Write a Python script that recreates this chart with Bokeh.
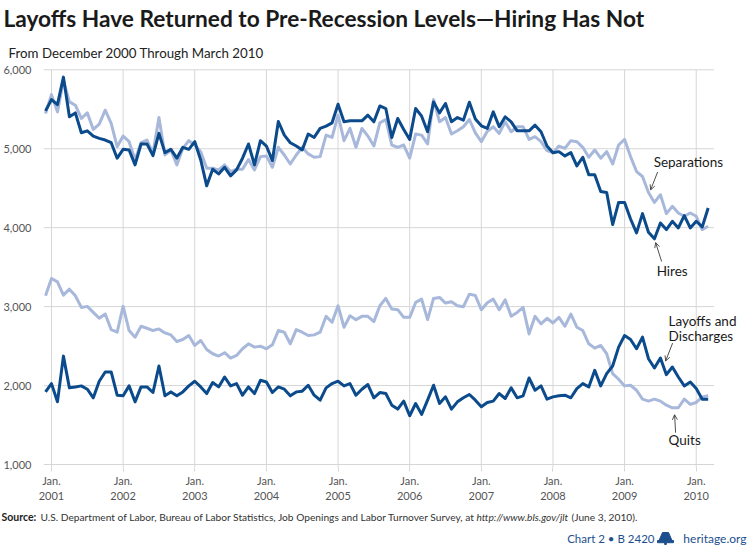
import pandas as pd
from bokeh.plotting import figure
from bokeh.layouts import column
from bokeh.models import (Label, Arrow, OpenHead, FixedTicker, Range1d,
                          NumeralTickFormatter, ColumnDataSource)
from bokeh.embed import file_html
from bokeh.resources import INLINE

# ---------------- data (thousands, monthly, Dec 2000 - Mar 2010) -------------
months = pd.date_range("2000-12-01", "2010-03-01", freq="MS")

hires = [
    5479, 5622, 5559, 5907, 5404, 5454, 5202, 5227, 5160, 5131, 5110, 5076,
    4880, 4992, 4984, 4795, 5060, 5060, 4913, 5194, 4950, 4992, 4880, 5018,
    4992, 5089, 4858, 4530, 4740, 4681, 4765, 4656, 4732, 4880, 5060, 4795,
    5102, 5034, 4850, 5345, 5172, 5076, 5034, 4984, 5186, 5143, 5257, 5286,
    5328, 5563, 5341, 5353, 5353, 5353, 5425, 5341, 5542, 5509, 5143, 5383,
    5244, 5118, 5509, 5412, 5215, 5593, 5454, 5572, 5341, 5395, 5362, 5589,
    5375, 5290, 5257, 5467, 5278, 5404, 5341, 5227, 5227, 5227, 5298, 5215,
    5034, 4950, 4963, 4909, 4950, 4782, 4892, 4669, 4669, 4459, 4446, 4039,
    4320, 4320, 4110, 3934, 4178, 3943, 3859, 4060, 3976, 4081, 3997, 4152,
    3997, 4081, 4009, 4249,
]
separations = [
    5446, 5685, 5467, 5865, 5593, 5551, 5383, 5454, 5244, 5312, 5488, 5320,
    5026, 5160, 5089, 4858, 5076, 5110, 4942, 5396, 4921, 4984, 4795, 5005,
    5102, 5047, 4963, 4753, 4753, 4732, 4795, 4711, 4740, 4740, 4863, 4732,
    4900, 4909, 4765, 5018, 4921, 4807, 4921, 5018, 4934, 4892, 4900, 5172,
    5143, 5425, 5102, 5257, 5018, 5257, 5160, 5034, 5328, 5370, 5047, 5018,
    5047, 4880, 5186, 5172, 5060, 5622, 5341, 5395, 5186, 5227, 5278, 5370,
    5200, 5089, 5220, 5278, 5194, 5341, 5215, 5278, 5278, 5118, 5152, 5089,
    4976, 4950, 5034, 5005, 5102, 5089, 5018, 4892, 4984, 4880, 4963, 4807,
    5047, 5118, 4900, 4711, 4648, 4446, 4320, 4417, 4178, 4270, 4186, 4144,
    4186, 4144, 3976, 4018,
]
quits = [
    3137, 3356, 3314, 3146, 3221, 3137, 2990, 3003, 2927, 2852, 2906, 2709,
    2676, 3003, 2697, 2613, 2751, 2726, 2697, 2718, 2667, 2642, 2558, 2583,
    2634, 2508, 2571, 2457, 2403, 2374, 2416, 2348, 2382, 2466, 2529, 2487,
    2499, 2466, 2516, 2697, 2676, 2529, 2709, 2676, 2634, 2642, 2676, 2877,
    2802, 3011, 2739, 2885, 2835, 2877, 2877, 2810, 3011, 3104, 2969, 2961,
    2864, 2864, 3053, 3095, 2835, 3104, 3116, 3045, 3062, 3011, 2999, 3158,
    3140, 2961, 3050, 3095, 2961, 3087, 2877, 2927, 2990, 2655, 2877, 2781,
    2852, 2793, 2864, 2751, 2906, 2739, 2697, 2529, 2474, 2508, 2403, 2151,
    2080, 1996, 2004, 1941, 1828, 1803, 1828, 1803, 1752, 1719, 1719, 1828,
    1761, 1786, 1857, 1870,
]
layoffs = [
    1920, 2025, 1794, 2373, 1971, 1983, 1996, 1954, 1845, 2055, 2172, 2172,
    1878, 1870, 1996, 1794, 1983, 1983, 1912, 2248, 1870, 1920, 1870, 1920,
    1996, 2055, 1983, 1899, 2038, 1983, 2109, 1996, 2025, 1878, 1983, 1899,
    2067, 2046, 1912, 1983, 1954, 1870, 1920, 1929, 2004, 1878, 1815, 1971,
    2025, 2055, 1996, 2025, 1878, 1954, 2013, 1845, 1912, 1899, 1752, 1702,
    1803, 1618, 1773, 1635, 1815, 2004, 1773, 1857, 1702, 1794, 1845, 1887,
    1815, 1731, 1786, 1803, 1899, 1836, 1971, 1845, 1870, 2096, 1941, 1996,
    1828, 1857, 1870, 1878, 1845, 1962, 2025, 1983, 2193, 1996, 2151, 2248,
    2487, 2634, 2583, 2466, 2613, 2340, 2222, 2348, 2138, 2235, 2109, 1996,
    2046, 1962, 1828, 1828,
]
tick_years = list(range(2001, 2011))
y_ticks = [1000, 2000, 3000, 4000, 5000, 6000]

title_text = "Layoffs Have Returned to Pre-Recession Levels\u2014Hiring Has Not"
subtitle_text = "From December 2000 Through March 2010"
source_bold = "Source:"
source_main = ("U.S. Department of Labor, Bureau of Labor Statistics, Job Openings "
               "and Labor Turnover Survey, at")
source_url = "http://www.bls.gov/jlt"
source_date = "(June 3, 2010)."
chart_id = "Chart 2 \u2022 B 2420"
site = "heritage.org"

# ---------------- styling ----------------
DARK = "#0b4a8b"
LIGHT = "#a7b8db"
GRID = "#d6d6d6"
FOOT_BLUE = "#1d4f8f"
FONT = "Lato"
W = 750
HEAD_H = 64
MAIN_BOTTOM = 505


def no_align(f):
    if "frame_align" in f.properties():
        f.frame_align = False


def blank(height, y_top, y_bottom):
    f = figure(width=W, height=height, output_backend="svg", toolbar_location=None,
               x_range=Range1d(0, W), y_range=Range1d(y_bottom, y_top),
               x_axis_location=None, y_axis_location=None, min_border=0)
    f.outline_line_color = None
    f.grid.visible = False
    no_align(f)
    return f


def lab(f, text, x, y, size, color="#1a1a1a", style="normal", font=FONT,
        align="left"):
    f.add_layout(Label(x=x, y=y, text=text, text_font=font, text_font_size=size,
                       text_color=color, text_font_style=style,
                       text_align=align, text_baseline="middle"))


# ---------------- header (page y 0..64) ----------------
header = blank(HEAD_H, 0, HEAD_H)
lab(header, title_text, 3, 17.5, "22.7px", style="bold", color="#1a1a1a")
lab(header, subtitle_text, 8, 52, "13.3px", color="#222222")

# ---------------- main chart (page y 64..505) ----------------
xpos = [m.year + (m.month - 1) / 12 for m in months]
src = ColumnDataSource(dict(x=xpos, hires=hires, sep=separations,
                            quits=quits, layoffs=layoffs))

PX_PER_UNIT = 0.07934
x0 = 2000.8885
y_lo = 1000 - 3 / PX_PER_UNIT
y_hi = 6000 + (69.3 - HEAD_H) / PX_PER_UNIT
p = figure(width=W, height=MAIN_BOTTOM - HEAD_H, output_backend="svg",
           toolbar_location=None,
           x_range=Range1d(x0, 2010.7575), y_range=Range1d(y_lo, y_hi),
           min_border_left=42, min_border_right=0, min_border_top=0,
           min_border_bottom=36)
p.outline_line_color = None
p.grid.visible = False
no_align(p)

p.xaxis.ticker = FixedTicker(ticks=tick_years)
p.xaxis.major_label_overrides = {y: f"Jan.\n{y}" for y in tick_years}
p.xaxis.axis_line_color = None
p.xaxis.major_tick_line_color = GRID
p.xaxis.major_tick_out = 4
p.xaxis.major_tick_in = 0
p.xaxis.minor_tick_line_color = None
p.xaxis.major_label_standoff = 2
p.xaxis.major_label_text_font = FONT
p.xaxis.major_label_text_font_size = "11px"
p.xaxis.major_label_text_color = "#555555"

p.yaxis.ticker = FixedTicker(ticks=y_ticks)
p.yaxis.formatter = NumeralTickFormatter(format="0,0")
p.yaxis.axis_line_color = None
p.yaxis.major_tick_line_color = None
p.yaxis.minor_tick_line_color = None
p.yaxis.major_tick_out = 0
p.yaxis.major_tick_in = 0
p.yaxis.major_label_standoff = 12
p.yaxis.major_label_text_font = FONT
p.yaxis.major_label_text_font_size = "11px"
p.yaxis.major_label_text_color = "#555555"

# gridlines limited to the data span (horizontal) and to 1,000-6,000 (vertical)
grid_end = xpos[-1] + 1 / 12
p.segment(x0=[x0] * len(y_ticks), y0=y_ticks, x1=[grid_end] * len(y_ticks),
          y1=y_ticks, line_color=GRID, line_width=1)
p.segment(x0=tick_years, y0=[max(y_ticks)] * len(tick_years), x1=tick_years,
          y1=[y_lo] * len(tick_years), line_color=GRID, line_width=1)

p.line("x", "quits", source=src, color=LIGHT, line_width=3, line_join="round")
p.line("x", "sep", source=src, color=LIGHT, line_width=3, line_join="round")
p.line("x", "layoffs", source=src, color=DARK, line_width=3, line_join="round")
p.line("x", "hires", source=src, color=DARK, line_width=3, line_join="round")


def xd(px):
    return 2001 + (px - 50) / 71.74


def yd(py):
    return 6000 - (py - 69.3) / PX_PER_UNIT


for text, px, py in [("Separations", 653, 161.5), ("Hires", 656, 272),
                     ("Layoffs and", 668, 321.5), ("Discharges", 668, 336.5),
                     ("Quits", 668, 441)]:
    lab(p, text, xd(px), yd(py), "13.5px")

for (ax0, ay0, ax1, ay1) in [(657, 172, 650, 190), (661, 262, 655, 243),
                             (672, 344, 665, 362), (675, 434, 674, 416)]:
    p.add_layout(Arrow(end=OpenHead(size=5, line_width=0.8, line_color="#222222"),
                       x_start=xd(ax0), y_start=yd(ay0), x_end=xd(ax1),
                       y_end=yd(ay1), line_width=0.8, line_color="#222222"))

# ---------------- footer (page y 505..548) ----------------
footer = blank(548 - MAIN_BOTTOM, MAIN_BOTTOM, 548)
FS = "10.2px"
lab(footer, source_bold, 1, 516, "10.5px", style="bold", color="#222222")
lab(footer, source_main, 40, 516, FS, color="#333333")
lab(footer, source_url, 476, 516, FS, style="italic", color="#333333")
lab(footer, source_date, 571, 516, FS, color="#333333")
lab(footer, chart_id, 654, 537.5, "11.5px", color=FOOT_BLUE, align="right")
lab(footer, site, 746, 537.5, "12px", color=FOOT_BLUE, align="right")
# small bell logo
footer.patch(x=[662, 668, 671.5, 658.5], y=[532, 532, 540, 540], color=FOOT_BLUE)
footer.quad(left=[657], right=[673], top=[540], bottom=[542.2], color=FOOT_BLUE)
footer.quad(left=[664.2], right=[665.8], top=[542.2], bottom=[544], color=FOOT_BLUE)

layout = column(header, p, footer, spacing=0)
open("out.html", "w").write(file_html(layout, INLINE))
